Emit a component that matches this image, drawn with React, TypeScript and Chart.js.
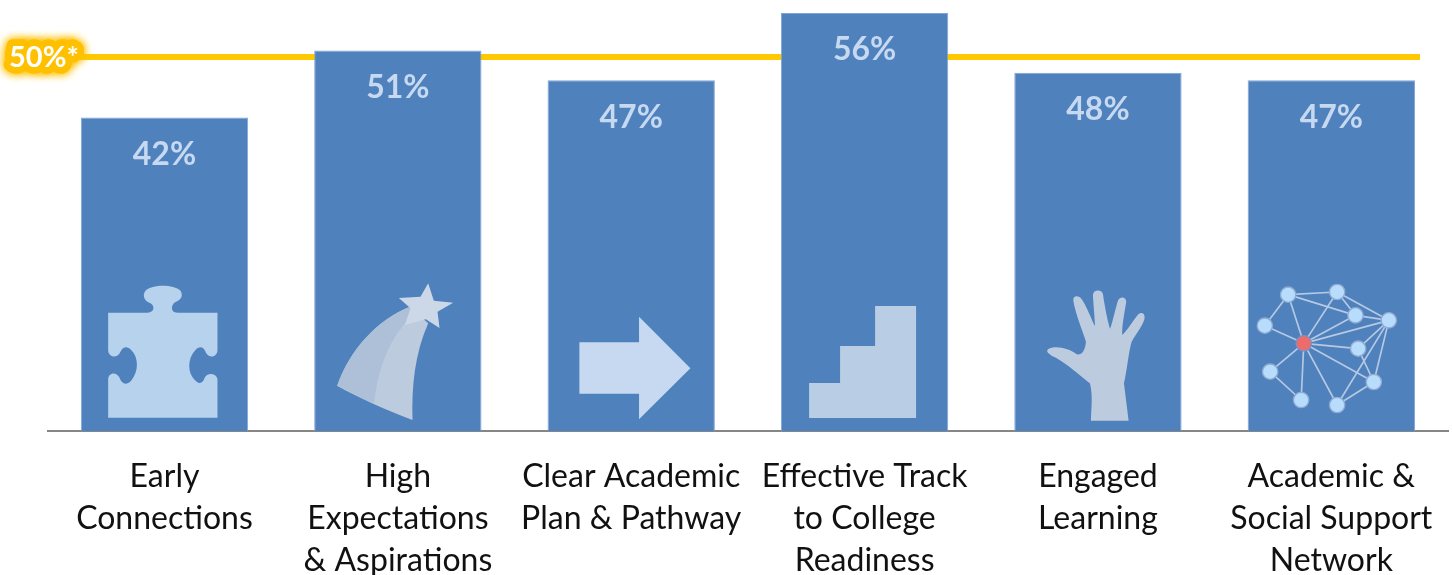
import React, { useEffect, useRef } from "react";
import { Chart, registerables } from "chart.js";

Chart.register(...registerables);

const categories: string[][] = [
  ["Early", "Connections"],
  ["High", "Expectations", "& Aspirations"],
  ["Clear Academic", "Plan & Pathway"],
  ["Effective Track", "to College", "Readiness"],
  ["Engaged", "Learning"],
  ["Academic &", "Social Support", "Network"],
];
const values = [42, 51, 47, 56, 48, 47];
const benchmarkValue = 50.1;
const benchmarkLabel = "50%*";

const FONT = "Lato, Carlito, sans-serif";

type Ctx = CanvasRenderingContext2D;
type Pt = number[];

const poly = (ctx: Ctx, pts: Pt[], fill: string) => {
  ctx.beginPath();
  pts.forEach((p, i) => (i ? ctx.lineTo(p[0], p[1]) : ctx.moveTo(p[0], p[1])));
  ctx.closePath();
  ctx.fillStyle = fill;
  ctx.fill();
};

const drawPuzzle = (ctx: Ctx) => {
  ctx.fillStyle = "#b6d2ec";
  ctx.fill(new Path2D("M143,128 L262,128 C280,128 285,110 270,100 C250,92 245,75 255,62 C275,42 340,42 360,62 C370,78 360,90 345,96 C330,105 330,128 350,128 L471,128 L471,240 C471,262 445,268 435,245 C428,228 415,228 405,240 C380,265 380,310 405,332 C418,345 428,338 432,325 C440,305 471,310 471,330 L471,443 L143,443 L143,330 C143,305 170,305 178,325 C185,345 200,345 212,332 C235,305 235,262 212,240 C200,225 185,232 180,245 C170,268 143,262 143,240 Z"));
};

const drawStar = (ctx: Ctx) => {
  ctx.fillStyle = "#bccbde";
  ctx.fill(new Path2D("M832,347 C870,240 950,150 1050,110 L1105,160 C1065,250 1055,350 1058,450 C980,420 900,385 832,347 Z"));
  ctx.fillStyle = "#adc0d8";
  ctx.fill(new Path2D("M832,347 C870,240 950,150 1050,110 L1060,135 C990,200 955,290 943,400 C905,385 870,368 832,347 Z"));
  poly(ctx, [[1105, 40], [1122, 92], [1180, 98], [1133, 125], [1139, 174], [1098, 148], [1035, 165], [1052, 115], [1017, 84], [1082, 80]], "#ccd8e7");
};

const drawArrow = (ctx: Ctx) =>
  poly(ctx, [[119, 157], [298, 157], [298, 80], [452, 235], [298, 388], [298, 311], [119, 311]], "#c6d9f1");

const drawStairs = (ctx: Ctx) =>
  poly(ctx, [[807, 384], [807, 279], [900, 279], [900, 168], [1005, 168], [1005, 48], [1128, 48], [1128, 384]], "#b9cde5");

const drawHand = (ctx: Ctx) => {
  ctx.fillStyle = "#bdcbdf";
  ctx.fill(new Path2D("M243,452 L356,452 L342,340 C350,310 355,250 365,215 C380,190 400,165 404,145 C405,130 395,125 385,133 C370,150 350,185 337,195 C335,170 345,120 349,95 C348,80 330,78 324,92 C315,120 305,170 300,176 C292,150 282,95 279,72 C275,58 250,58 249,75 C250,100 255,150 255,168 C245,150 225,95 210,82 C200,76 190,78 190,90 C195,130 225,200 228,215 C225,245 215,255 200,253 C180,235 135,225 115,237 C105,245 120,255 135,262 C170,280 220,325 240,340 C250,380 243,420 243,452 Z"));
};

const netNodes: Pt[] = [[835, 74], [982, 66], [1037, 136], [1137, 151], [765, 167], [882, 220], [1045, 236], [781, 305], [1092, 336], [874, 390], [982, 405]];
const netEdges: Pt[] = [[0, 1], [0, 2], [0, 4], [0, 5], [1, 2], [1, 3], [1, 5], [2, 3], [2, 5], [3, 5], [3, 6], [3, 8], [3, 10], [4, 5], [5, 6], [5, 7], [5, 8], [5, 9], [5, 10], [6, 8], [7, 9], [8, 10]];

const drawNetwork = (ctx: Ctx) => {
  ctx.strokeStyle = "#b5c9e3";
  ctx.lineWidth = 5;
  netEdges.forEach(([a, b]) => {
    ctx.beginPath();
    ctx.moveTo(netNodes[a][0], netNodes[a][1]);
    ctx.lineTo(netNodes[b][0], netNodes[b][1]);
    ctx.stroke();
  });
  netNodes.forEach((n, i) => {
    ctx.beginPath();
    ctx.arc(n[0], n[1], 23, 0, Math.PI * 2);
    ctx.fillStyle = i === 5 ? "#ee6b6b" : "#b8dcfb";
    ctx.fill();
    ctx.lineWidth = 4;
    ctx.strokeStyle = i === 5 ? "#7f8fc0" : "#8fabd2";
    ctx.stroke();
  });
};

// Each icon is sketched in its own 3x units; cx / base are the bar centre and axis baseline in those units.
const icons = [
  { draw: drawPuzzle, cx: 312, base: 483 },
  { draw: drawStar, cx: 1014, base: 483 },
  { draw: drawArrow, cx: 274.5, base: 423 },
  { draw: drawStairs, cx: 973.5, base: 423 },
  { draw: drawHand, cx: 264, base: 483 },
  { draw: drawNetwork, cx: 964.5, base: 483 },
];

const decorations = {
  id: "decorations",
  afterDatasetsDraw(chart: any) {
    const ctx: Ctx = chart.ctx;
    const bars = chart.getDatasetMeta(0).data;
    const base = chart.scales.y.getPixelForValue(0);
    ctx.save();
    bars.forEach((bar: any, i: number) => {
      const icon = icons[i];
      ctx.save();
      ctx.translate(bar.x, base);
      ctx.scale(1 / 3, 1 / 3);
      ctx.translate(-icon.cx, -icon.base);
      icon.draw(ctx);
      ctx.restore();

      ctx.font = `bold 32px ${FONT}`;
      ctx.textAlign = "center";
      ctx.textBaseline = "middle";
      ctx.fillStyle = "#c6d9f1";
      ctx.fillText(`${values[i]}%`, bar.x, bar.y + 37);
    });

    const y = chart.scales.y.getPixelForValue(benchmarkValue);
    ctx.font = `bold 29px ${FONT}`;
    ctx.textAlign = "left";
    ctx.textBaseline = "middle";
    ctx.lineJoin = "round";
    ctx.shadowColor = "#ffc000";
    ctx.shadowBlur = 10;
    ctx.strokeStyle = "#ffc000";
    ctx.lineWidth = 13;
    ctx.strokeText(benchmarkLabel, 9, y + 1);
    ctx.strokeText(benchmarkLabel, 9, y + 1);
    ctx.shadowBlur = 0;
    ctx.fillStyle = "#ffffff";
    ctx.fillText(benchmarkLabel, 9, y + 1);
    ctx.restore();
  },
};

export default function App() {
  const ref = useRef<HTMLCanvasElement>(null);
  useEffect(() => {
    const chart = new Chart(ref.current!, {
      type: "bar",
      data: {
        labels: categories,
        datasets: [
          {
            data: values,
            backgroundColor: "#4f81bd",
            borderColor: "#7ea6d8",
            borderWidth: { top: 1, left: 1, right: 1, bottom: 0 },
            categoryPercentage: 1,
            barPercentage: 0.717,
            grouped: false,
            order: 1,
          },
          {
            type: "line",
            xAxisID: "x2",
            data: [
              { x: 20, y: benchmarkValue },
              { x: 1372, y: benchmarkValue },
            ],
            borderColor: "#ffc800",
            borderWidth: 6,
            pointRadius: 0,
            order: 2,
          },
        ],
      } as any,
      options: {
        animation: false,
        responsive: false,
        layout: { padding: { left: 47.8, right: 4, top: 0, bottom: 0 } },
        plugins: { legend: { display: false }, tooltip: { enabled: false } },
        scales: {
          x: {
            offset: true,
            grid: { display: false, drawTicks: false },
            border: { color: "#868686", width: 2 },
            afterFit: (s: any) => {
              s.height = 144;
              s.paddingLeft = 0;
              s.paddingRight = 0;
            },
            ticks: {
              autoSkip: false,
              maxRotation: 0,
              minRotation: 0,
              color: "#111111",
              padding: 25,
              font: { family: FONT, size: 32, lineHeight: "42px" },
            },
          },
          x2: { type: "linear", display: false, offset: false, min: 0, max: 1400 },
          y: { display: false, min: 0, max: 57.75 },
        },
      } as any,
      plugins: [decorations],
    });
    return () => chart.destroy();
  }, []);
  return (
    <div style={{ position: "absolute", left: 0, top: 0, width: 1452, height: 575, background: "#fff" }}>
      <canvas ref={ref} width={1452} height={575} style={{ display: "block" }} />
    </div>
  );
}
